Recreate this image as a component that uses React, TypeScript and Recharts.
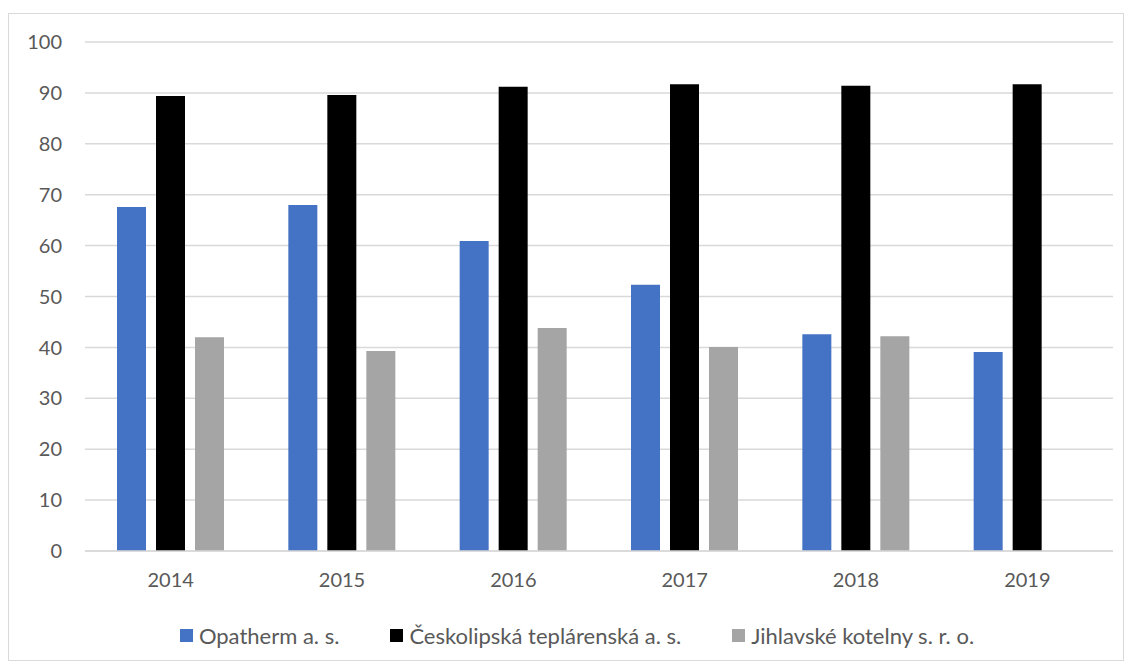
import { BarChart, Bar, XAxis, YAxis, CartesianGrid, Legend } from 'recharts';

const YEARS = ['2014', '2015', '2016', '2017', '2018', '2019'];
const OPATHERM = [67.6, 68.0, 60.9, 52.3, 42.6, 39.1];
const CESKOLIPSKA = [89.4, 89.6, 91.2, 91.7, 91.4, 91.7];
const JIHLAVSKE = [42.0, 39.3, 43.8, 40.1, 42.2, null];
const Y_TICKS = [0, 10, 20, 30, 40, 50, 60, 70, 80, 90, 100];

const SERIES = [
  { key: 'opatherm', name: 'Opatherm a. s.', color: '#4472C4' },
  { key: 'ceskolipska', name: 'Českolipská teplárenská a. s.', color: '#000000' },
  { key: 'jihlavske', name: 'Jihlavské kotelny s. r. o.', color: '#A5A5A5' },
];

const data = YEARS.map((year, i) => ({
  year,
  opatherm: OPATHERM[i],
  ceskolipska: CESKOLIPSKA[i],
  jihlavske: JIHLAVSKE[i],
}));

const TEXT = '#595959';
const FONT = 'Lato, "Open Sans", sans-serif';

// keep legend in series order (recharts sorts by name otherwise)
const order = (v: string) => SERIES.findIndex((s) => s.name === v);

function LegendRow({ payload }: any) {
  const items = [...(payload || [])].sort((a: any, b: any) => order(a.value) - order(b.value));
  return (
    <div style={{ display: 'flex', justifyContent: 'center', gap: 51, paddingTop: 11, paddingLeft: 32, fontFamily: FONT, fontSize: 22, color: TEXT }}>
      {items.map((p: any) => (
        <div key={p.value} style={{ display: 'flex', alignItems: 'center' }}>
          <span style={{ width: 13, height: 13, background: p.color, display: 'inline-block', marginRight: 6 }} />
          <span>{p.value}</span>
        </div>
      ))}
    </div>
  );
}

export default function App() {
  return (
    <div style={{ width: 1114, height: 646, marginTop: 5, border: '1px solid #d9d9d9', background: '#fff' }}>
      <BarChart width={1114} height={646} data={data} margin={{ top: 28, right: 10, left: 0, bottom: 0 }} barSize={29} barGap={10}>
        <CartesianGrid vertical={false} stroke="#d9d9d9" strokeWidth={1.5} />
        <XAxis dataKey="year" tickLine={false} tickSize={0} tickMargin={22} height={60} axisLine={{ stroke: '#d9d9d9', strokeWidth: 1.5 }} tick={{ fill: TEXT, fontSize: 20, fontFamily: FONT }} />
        <YAxis domain={[0, 100]} ticks={Y_TICKS} interval={0} width={76} axisLine={false} tickLine={false} tickSize={0} tickMargin={23} tick={{ fill: TEXT, fontSize: 20, fontFamily: FONT }} />
        <Legend verticalAlign="bottom" height={49} content={<LegendRow />} />
        {SERIES.map((s) => (
          <Bar key={s.key} dataKey={s.key} name={s.name} fill={s.color} isAnimationActive={false} />
        ))}
      </BarChart>
    </div>
  );
}
